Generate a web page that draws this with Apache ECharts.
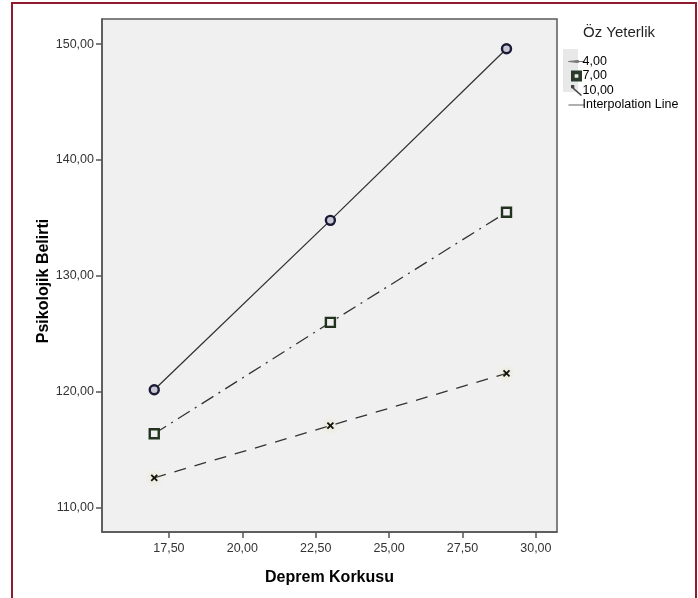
<!DOCTYPE html>
<html>
<head>
<meta charset="utf-8">
<script src="https://cdn.jsdelivr.net/npm/echarts@6/dist/echarts.min.js"></script>
<style>
html,body{margin:0;padding:0;background:#fff;}
#frame{position:absolute;left:11px;top:2px;width:682px;height:600px;border-left:2px solid #8e1b2e;border-top:2px solid #8e1b2e;border-right:2px solid #8e1b2e;}
#chart{position:absolute;left:0;top:0;width:698px;height:598px;}
</style>
</head>
<body>
<div id="frame"></div>
<div id="chart"></div>
<script>
const xValues = [17, 23, 29];
const seriesNames = ['4,00', '7,00', '10,00'];
const s4 = [112.6, 117.1, 121.6];
const s7 = [116.4, 126.0, 135.5];
const s10 = [120.2, 134.8, 149.6];
const xTicks = [17.5, 20, 22.5, 25, 27.5, 30];
const yTicks = [110, 120, 130, 140, 150];
const xTitle = 'Deprem Korkusu';
const yTitle = 'Psikolojik Belirti';
const legendTitle = 'Öz Yeterlik';

const fmt = v => Number(v).toFixed(2).replace('.', ',');
const pair = arr => xValues.map((x, i) => [x, arr[i]]);
const xPath = 'path://M0,0 L10,10 M10,0 L0,10';

const chart = echarts.init(document.getElementById('chart'), null, {renderer: 'canvas'});
const font = 'Liberation Sans, Arial, sans-serif';
chart.setOption({
  animation: false,
  textStyle: {fontFamily: font},
  grid: {left: 102, top: 19, right: 141, bottom: 66, show: true, backgroundColor: '#f0f0f0', borderColor: '#5a5a5a', borderWidth: 1.5},
  xAxis: {
    type: 'value', min: 15.22, max: 30.72,
    name: xTitle, nameLocation: 'middle', nameGap: 38,
    nameTextStyle: {fontFamily: font, fontWeight: 'bold', fontSize: 16, color: '#000'},
    axisLine: {show: true, lineStyle: {color: '#555', width: 1.5}},
    axisTick: {show: true, length: 6, lineStyle: {color: '#555', width: 1.5}, customValues: xTicks},
    axisLabel: {color: '#333', fontSize: 12.5, margin: 10, customValues: xTicks, formatter: fmt},
    splitLine: {show: false}
  },
  yAxis: {
    type: 'value', min: 107.93, max: 152.16,
    axisLine: {show: true, lineStyle: {color: '#555', width: 1.5}},
    axisTick: {show: true, length: 6, lineStyle: {color: '#555', width: 1.5}, customValues: yTicks},
    axisLabel: {color: '#333', fontSize: 12.5, margin: 8, customValues: yTicks, formatter: fmt},
    splitLine: {show: false}
  },
  legend: {
    orient: 'vertical', left: 563, top: 50, itemGap: 1.5, itemWidth: 16, itemHeight: 11,
    textStyle: {fontSize: 12.5, color: '#000', fontFamily: font, padding: [0, 0, 0, -7]},
    data: [
      {name: seriesNames[0], icon: 'path://M0,5 L10,4 L10,6 Z M10,5 L16,5', itemStyle: {color: '#777', borderColor: '#777', borderWidth: 1}},
      {name: seriesNames[1], icon: 'path://M3,2 L9,2 L9,8 L3,8 Z M5,4 L5,6 L7,6 L7,4 Z', itemStyle: {color: '#2a3a2a', borderWidth: 0}},
      {name: seriesNames[2], icon: 'path://M3,2 L6,2 L6,5 L3,5 Z M5,4 L13,11 L12,12 L4,5 Z', itemStyle: {color: '#444', borderWidth: 0}},
      {name: 'Interpolation Line', icon: 'path://M-4,6 L18,6 L18,7 L-4,7 Z', itemStyle: {color: '#222', borderWidth: 0}}
    ]
  },
  graphic: [
    {type: 'rect', left: 563, top: 49, z: -1, shape: {width: 15, height: 43}, style: {fill: '#e8e8e8'}},
    {type: 'text', left: 583, top: 25, style: {text: legendTitle, font: '15px Liberation Sans, Arial, sans-serif', fill: '#222'}},
    {type: 'text', x: 44, y: 281, rotation: Math.PI / 2,
     style: {text: yTitle, font: 'bold 16px Liberation Sans, Arial, sans-serif', fill: '#000', align: 'center', verticalAlign: 'middle'}}
  ],
  series: [
    {
      name: seriesNames[0], type: 'line', data: pair(s4),
      symbol: xPath, symbolSize: 6,
      itemStyle: {color: '#111', borderColor: '#111', borderWidth: 1.8, shadowColor: '#e0da8a', shadowBlur: 7},
      lineStyle: {color: '#333', width: 1.3, type: [12, 9]}
    },
    {
      name: seriesNames[1], type: 'line', data: pair(s7),
      symbol: 'rect', symbolSize: 9,
      itemStyle: {color: '#f0f0f0', borderColor: '#23331f', borderWidth: 2.4},
      lineStyle: {color: '#333', width: 1.3, type: [14, 6, 2, 6]}
    },
    {
      name: seriesNames[2], type: 'line', data: pair(s10),
      symbol: 'circle', symbolSize: 9,
      itemStyle: {color: '#c8c8d4', borderColor: '#1a1a36', borderWidth: 2.4},
      lineStyle: {color: '#333', width: 1.3, type: 'solid'}
    },
    {name: 'Interpolation Line', type: 'line', data: []}
  ]
});
</script>
</body>
</html>
